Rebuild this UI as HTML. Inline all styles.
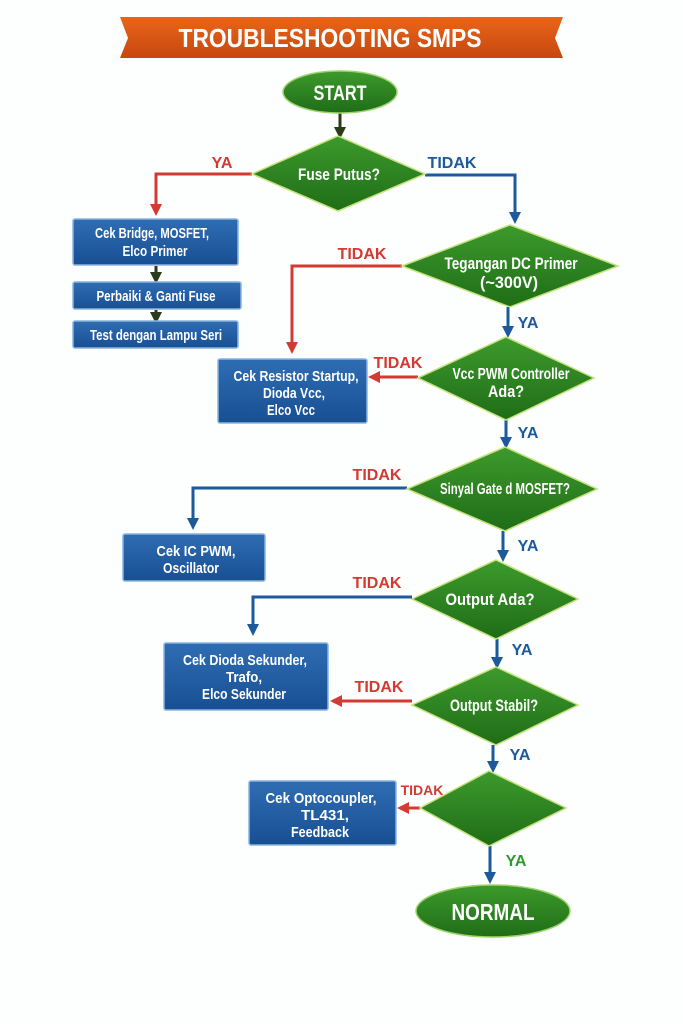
<!DOCTYPE html>
<html><head><meta charset="utf-8"><style>
html,body{margin:0;padding:0;background:#fdfefe;}
svg{display:block}
text{font-family:"Liberation Sans",sans-serif;font-weight:bold;}
</style></head><body>
<svg width="683" height="1024" viewBox="0 0 683 1024" xmlns="http://www.w3.org/2000/svg">
<defs>
<linearGradient id="og" x1="0" y1="0" x2="0" y2="1"><stop offset="0" stop-color="#e8661a"/><stop offset="1" stop-color="#c8470e"/></linearGradient>
<linearGradient id="gg" x1="0" y1="0" x2="0" y2="1"><stop offset="0" stop-color="#3d9a2c"/><stop offset="1" stop-color="#1f6d17"/></linearGradient>
<linearGradient id="bg" x1="0" y1="0" x2="0" y2="1"><stop offset="0" stop-color="#2f6db3"/><stop offset="1" stop-color="#184f93"/></linearGradient>
<marker id="ar" markerWidth="4" markerHeight="4" refX="2" refY="2" orient="auto" markerUnits="strokeWidth"><path d="M0,0 L4,2 L0,4 z" fill="#d33a32"/></marker>
<marker id="ab" markerWidth="4" markerHeight="4" refX="2" refY="2" orient="auto" markerUnits="strokeWidth"><path d="M0,0 L4,2 L0,4 z" fill="#1c5a9c"/></marker>
<marker id="ak" markerWidth="4" markerHeight="4" refX="2" refY="2" orient="auto" markerUnits="strokeWidth"><path d="M0,0 L4,2 L0,4 z" fill="#2a3a1a"/></marker>
</defs>

<path d="M120,17 L563,17 L555,38 L563,58 L120,58 L128,38 z" fill="url(#og)"/>
<text x="330" y="47" font-size="26" fill="#fff" text-anchor="middle" textLength="303" lengthAdjust="spacingAndGlyphs">TROUBLESHOOTING SMPS</text>

<g fill="none" stroke-width="3">
<path d="M340,113 V133" stroke="#2a3a1a" marker-end="url(#ak)"/>
<path d="M252,174 H156 V210" stroke="#d33a32" marker-end="url(#ar)"/>
<path d="M425,175 H515 V218" stroke="#1c5a9c" marker-end="url(#ab)"/>
<path d="M156,266 V278" stroke="#2a3a1a" marker-end="url(#ak)"/>
<path d="M156,310 V318" stroke="#2a3a1a" marker-end="url(#ak)"/>
<path d="M402,266 H292 V348" stroke="#d33a32" marker-end="url(#ar)"/>
<path d="M508,307 V332" stroke="#1c5a9c" marker-end="url(#ab)"/>
<path d="M418,377 H374" stroke="#d33a32" marker-end="url(#ar)"/>
<path d="M506,420 V443" stroke="#1c5a9c" marker-end="url(#ab)"/>
<path d="M407,488 H193 V524" stroke="#1c5a9c" marker-end="url(#ab)"/>
<path d="M503,531 V556" stroke="#1c5a9c" marker-end="url(#ab)"/>
<path d="M412,597 H253 V630" stroke="#1c5a9c" marker-end="url(#ab)"/>
<path d="M497,639 V663" stroke="#1c5a9c" marker-end="url(#ab)"/>
<path d="M412,701 H336" stroke="#d33a32" marker-end="url(#ar)"/>
<path d="M493,745 V767" stroke="#1c5a9c" marker-end="url(#ab)"/>
<path d="M420,808 H403" stroke="#d33a32" marker-end="url(#ar)"/>
<path d="M490,846 V878" stroke="#1c5a9c" marker-end="url(#ab)"/>
</g>

<g font-size="16">
<text x="222" y="168" fill="#d33a32" text-anchor="middle">YA</text>
<text x="452" y="168" fill="#1c5a9c" text-anchor="middle">TIDAK</text>
<text x="362" y="259" fill="#d33a32" text-anchor="middle">TIDAK</text>
<text x="528" y="328" fill="#1c5a9c" text-anchor="middle">YA</text>
<text x="398" y="368" fill="#d33a32" text-anchor="middle">TIDAK</text>
<text x="528" y="438" fill="#1c5a9c" text-anchor="middle">YA</text>
<text x="377" y="480" fill="#d33a32" text-anchor="middle">TIDAK</text>
<text x="528" y="551" fill="#1c5a9c" text-anchor="middle">YA</text>
<text x="377" y="588" fill="#d33a32" text-anchor="middle">TIDAK</text>
<text x="522" y="655" fill="#1c5a9c" text-anchor="middle">YA</text>
<text x="379" y="692" fill="#d33a32" text-anchor="middle">TIDAK</text>
<text x="520" y="760" fill="#1c5a9c" text-anchor="middle">YA</text>
<text x="422" y="795" fill="#d33a32" text-anchor="middle" font-size="14">TIDAK</text>
<text x="516" y="866" fill="#2e9a2e" text-anchor="middle">YA</text>
</g>

<ellipse cx="340" cy="92" rx="57" ry="21" fill="url(#gg)" stroke="#9bd36a" stroke-width="1.5"/>
<text x="340" y="100" font-size="21" fill="#fff" text-anchor="middle" textLength="53" lengthAdjust="spacingAndGlyphs">START</text>
<ellipse cx="493" cy="911" rx="77" ry="26" fill="url(#gg)" stroke="#9bd36a" stroke-width="1.5"/>
<text x="493" y="920" font-size="23" fill="#fff" text-anchor="middle" textLength="83" lengthAdjust="spacingAndGlyphs">NORMAL</text>

<g fill="url(#gg)" stroke="#c4e27a" stroke-width="1.5">
<polygon points="338,136 425,174 338,211 252,174"/>
<polygon points="510,225 618,266 510,307 402,266"/>
<polygon points="506,337 594,378 506,420 418,378"/>
<polygon points="505,447 597,489 505,531 407,489"/>
<polygon points="496,560 578,599 496,639 412,599"/>
<polygon points="496,667 578,705 496,745 412,705"/>
<polygon points="489,771 566,808 489,846 420,808"/>
</g>
<g fill="#fff" text-anchor="middle">
<text x="339" y="180" font-size="17" textLength="82" lengthAdjust="spacingAndGlyphs">Fuse Putus?</text>
<text x="511" y="269" font-size="17" textLength="133" lengthAdjust="spacingAndGlyphs">Tegangan DC Primer</text>
<text x="509" y="288" font-size="17" textLength="58" lengthAdjust="spacingAndGlyphs">(~300V)</text>
<text x="511" y="379" font-size="16" textLength="117" lengthAdjust="spacingAndGlyphs">Vcc PWM Controller</text>
<text x="506" y="397" font-size="17" textLength="36" lengthAdjust="spacingAndGlyphs">Ada?</text>
<text x="505" y="494" font-size="16" textLength="130" lengthAdjust="spacingAndGlyphs">Sinyal Gate d MOSFET?</text>
<text x="490" y="605" font-size="17" textLength="89" lengthAdjust="spacingAndGlyphs">Output Ada?</text>
<text x="494" y="711" font-size="17" textLength="88" lengthAdjust="spacingAndGlyphs">Output Stabil?</text>
</g>

<g fill="url(#bg)" stroke="#8ab4e0" stroke-width="1.5">
<rect x="73" y="219" width="165" height="46" rx="2"/>
<rect x="73" y="282" width="168" height="27" rx="2"/>
<rect x="73" y="321" width="165" height="27" rx="2"/>
<rect x="218" y="359" width="149" height="64" rx="2"/>
<rect x="123" y="534" width="142" height="47" rx="2"/>
<rect x="164" y="643" width="164" height="67" rx="2"/>
<rect x="249" y="781" width="147" height="64" rx="2"/>
</g>
<g fill="#fff" text-anchor="middle" font-size="15">
<text x="152" y="238" textLength="114" lengthAdjust="spacingAndGlyphs">Cek Bridge, MOSFET,</text>
<text x="155" y="256" textLength="65" lengthAdjust="spacingAndGlyphs">Elco Primer</text>
<text x="156" y="301" textLength="119" lengthAdjust="spacingAndGlyphs">Perbaiki &amp; Ganti Fuse</text>
<text x="156" y="340" textLength="132" lengthAdjust="spacingAndGlyphs">Test dengan Lampu Seri</text>
<text x="296" y="381" textLength="125" lengthAdjust="spacingAndGlyphs">Cek Resistor Startup,</text>
<text x="294" y="398" textLength="62" lengthAdjust="spacingAndGlyphs">Dioda Vcc,</text>
<text x="291" y="415" textLength="48" lengthAdjust="spacingAndGlyphs">Elco Vcc</text>
<text x="196" y="556" textLength="79" lengthAdjust="spacingAndGlyphs">Cek IC PWM,</text>
<text x="191" y="573" textLength="56" lengthAdjust="spacingAndGlyphs">Oscillator</text>
<text x="245" y="665" textLength="124" lengthAdjust="spacingAndGlyphs">Cek Dioda Sekunder,</text>
<text x="244" y="682" textLength="36" lengthAdjust="spacingAndGlyphs">Trafo,</text>
<text x="244" y="699" textLength="84" lengthAdjust="spacingAndGlyphs">Elco Sekunder</text>
<text x="321" y="803" textLength="111" lengthAdjust="spacingAndGlyphs">Cek Optocoupler,</text>
<text x="325" y="820" textLength="48" lengthAdjust="spacingAndGlyphs">TL431,</text>
<text x="320" y="837" textLength="58" lengthAdjust="spacingAndGlyphs">Feedback</text>
</g>
</svg>
</body></html>
